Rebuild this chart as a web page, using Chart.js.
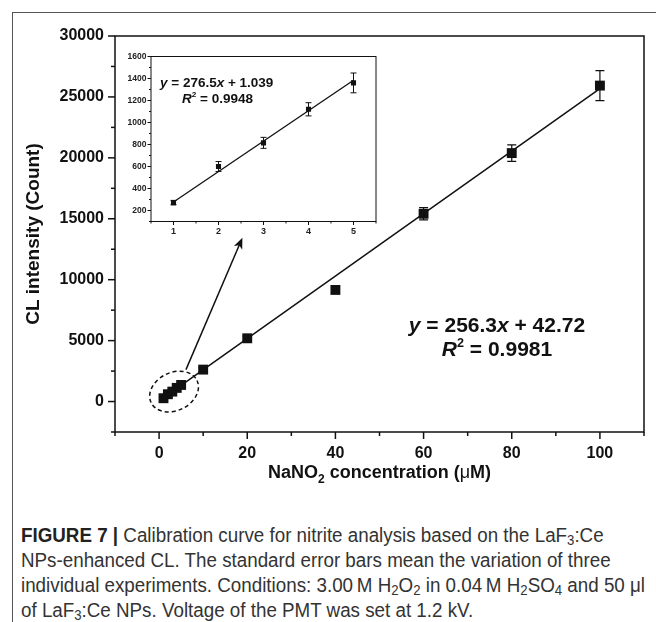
<!DOCTYPE html>
<html><head><meta charset="utf-8">
<script src="https://cdn.jsdelivr.net/npm/chart.js@4.4.1/dist/chart.umd.min.js"></script>
<style>
html,body{margin:0;padding:0;background:#fff;}
#wrap{position:relative;width:656px;height:622px;overflow:hidden;background:#fff;}
#frame{position:absolute;left:12px;top:12px;width:700px;height:700px;border-left:1.5px solid #555;border-top:1.5px solid #555;box-sizing:border-box;}
#main,#inset{position:absolute;left:0;top:0;}
#inset{pointer-events:none;}
#cap{position:absolute;left:21px;top:523px;font-family:"Liberation Sans",Arial,sans-serif;font-size:20px;line-height:25px;color:#333;white-space:nowrap;transform-origin:0 0;}
#cap .ln{display:block;}
#cap sub{font-size:0.7em;vertical-align:-0.2em;line-height:0}
#cap b{color:#222}
</style></head>
<body>
<div id="wrap">
<div id="frame"></div>
<canvas id="main" width="656" height="500"></canvas>
<canvas id="inset" width="656" height="500"></canvas>
<div id="cap"><span class="ln"><b>FIGURE 7 |</b> Calibration curve for nitrite analysis based on the LaF<sub>3</sub>:Ce</span><span class="ln">NPs-enhanced CL. The standard error bars mean the variation of three</span><span class="ln" id="l3">individual experiments. Conditions: 3.00&#8201;M H<sub>2</sub>O<sub>2</sub> in 0.04&#8201;M H<sub>2</sub>SO<sub>4</sub> and 50 μl</span><span class="ln">of LaF<sub>3</sub>:Ce NPs. Voltage of the PMT was set at 1.2 kV.</span></div>
</div>
<script>
// ---------- data ----------
const concX  = [1, 2, 3, 4, 5, 10, 20, 40, 60, 80, 100];
const clY    = [272, 600, 815, 1120, 1360, 2620, 5190, 9160, 15410, 20390, 25930];
const clErr  = [20, 45, 50, 60, 90, 150, 150, 250, 500, 680, 1230];
const fitX   = [1, 100];
const fitY   = [299, 25673];
const xMajorTicks = [0, 20, 40, 60, 80, 100];
const yMajorTicks = [0, 5000, 10000, 15000, 20000, 25000, 30000];

const insetX   = [1, 2, 3, 4, 5];
const insetY   = [272, 600, 815, 1120, 1360];
const insetErr = [20, 45, 50, 60, 90];
const insetFitX = [1, 5];
const insetFitY = [278, 1384];
const insetXMajorTicks = [1, 2, 3, 4, 5];
const insetYMajorTicks = [200, 400, 600, 800, 1000, 1200, 1400, 1600];

const mainEq = 'y = 256.3x + 42.72';
const mainR2 = '0.9981';
const insetEq = 'y = 276.5x + 1.039';
const insetR2 = '0.9948';

// annotation anchors in data units
const arrowFrom = {x: 6.1, y: 2620};
const arrowTo   = {x: 18.9, y: 13440};
const ellipseCenter = {x: 3.4, y: 820};

// caption: condense to the reference line length
(function(){
  const cap = document.getElementById('cap');
  const w = document.getElementById('l3').getBoundingClientRect().width;
  const k = 624 / w;
  cap.style.transform = 'scaleX(' + k + ')';
})();

const FONT = '"Liberation Sans", Arial, Helvetica, sans-serif';
const INK = '#111';

function pts(xs, ys){ return xs.map((x,i)=>({x:x, y:ys[i]})); }

function eqSegments(eq){
  const m = eq.match(/^y = ([\d.]+)x \+ ([\d.]+)$/);
  return [{t:'y',i:true},{t:' = '+m[1]},{t:'x',i:true},{t:' + '+m[2]}];
}
function drawRich(ctx, segs, cx, baseY, size, align){
  const font = (it, sz)=> (it?'italic ':'') + 'bold ' + sz + 'px ' + FONT;
  let w = 0;
  segs.forEach(s=>{ ctx.font = font(s.i, s.sup? size*0.6 : size); s.w = ctx.measureText(s.t).width; w += s.w; });
  let x = align==='left' ? cx : cx - w/2;
  ctx.textBaseline = 'alphabetic'; ctx.textAlign='left'; ctx.fillStyle = INK;
  segs.forEach(s=>{
    ctx.font = font(s.i, s.sup? size*0.6 : size);
    ctx.fillText(s.t, x, s.sup ? baseY - size*0.42 : baseY);
    x += s.w;
  });
}

function drawAxisTicks(ctx, chart, xStep, yStep, xMaj, yMaj, majLen, minLen, lw){
  const xs = chart.scales.x, ys = chart.scales.y, a = chart.chartArea;
  ctx.save(); ctx.strokeStyle = INK; ctx.lineWidth = lw;
  for (let v = xs.min; v <= xs.max + 1e-9; v += xStep){
    const vv = Math.round(v*1000)/1000;
    const px = xs.getPixelForValue(vv);
    const L = xMaj.includes(vv) ? majLen : minLen;
    ctx.beginPath(); ctx.moveTo(px, a.bottom); ctx.lineTo(px, a.bottom + L); ctx.stroke();
  }
  for (let v = ys.min; v <= ys.max + 1e-9; v += yStep){
    const vv = Math.round(v*1000)/1000;
    const py = ys.getPixelForValue(vv);
    const L = yMaj.includes(vv) ? majLen : minLen;
    ctx.beginPath(); ctx.moveTo(a.left, py); ctx.lineTo(a.left - L, py); ctx.stroke();
  }
  ctx.restore();
}
function drawErrors(ctx, chart, xsArr, ysArr, errs, cap, lw){
  const xs = chart.scales.x, ys = chart.scales.y;
  ctx.save(); ctx.strokeStyle = INK; ctx.lineWidth = lw;
  xsArr.forEach((xv,i)=>{
    const px = xs.getPixelForValue(xv);
    const t = ys.getPixelForValue(ysArr[i] + errs[i]);
    const b = ys.getPixelForValue(ysArr[i] - errs[i]);
    ctx.beginPath();
    ctx.moveTo(px, t); ctx.lineTo(px, b);
    ctx.moveTo(px-cap, t); ctx.lineTo(px+cap, t);
    ctx.moveTo(px-cap, b); ctx.lineTo(px+cap, b);
    ctx.stroke();
  });
  ctx.restore();
}

const mainDecor = {
  id: 'mainDecor',
  afterDatasetsDraw(chart){
    const ctx = chart.ctx, a = chart.chartArea, xs = chart.scales.x, ys = chart.scales.y;
    drawErrors(ctx, chart, concX, clY, clErr, 4.5, 1.2);
    ctx.save();
    ctx.strokeStyle = INK; ctx.lineWidth = 1.5;
    ctx.strokeRect(a.left, a.top, a.right - a.left, a.bottom - a.top);
    ctx.restore();
    drawAxisTicks(ctx, chart, 10, 2500, xMajorTicks, yMajorTicks, 7, 4, 1.5);
    // dashed ellipse
    ctx.save();
    ctx.strokeStyle = INK; ctx.lineWidth = 1.5; ctx.setLineDash([4,3]);
    ctx.beginPath();
    ctx.ellipse(xs.getPixelForValue(ellipseCenter.x), ys.getPixelForValue(ellipseCenter.y), 25.5, 19, -0.45, 0, Math.PI*2);
    ctx.stroke();
    ctx.restore();
    // arrow
    const x0 = xs.getPixelForValue(arrowFrom.x), y0 = ys.getPixelForValue(arrowFrom.y);
    const x1 = xs.getPixelForValue(arrowTo.x), y1 = ys.getPixelForValue(arrowTo.y);
    const ang = Math.atan2(y1-y0, x1-x0);
    ctx.save();
    ctx.strokeStyle = INK; ctx.fillStyle = INK; ctx.lineWidth = 1.5;
    ctx.beginPath(); ctx.moveTo(x0,y0); ctx.lineTo(x1 - 6*Math.cos(ang), y1 - 6*Math.sin(ang)); ctx.stroke();
    ctx.translate(x1,y1); ctx.rotate(ang);
    ctx.beginPath(); ctx.moveTo(0,0); ctx.lineTo(-11,-4.5); ctx.lineTo(-8,0); ctx.lineTo(-11,4.5); ctx.closePath(); ctx.fill();
    ctx.restore();
    // equation
    drawRich(ctx, eqSegments(mainEq), 497, 332, 21, 'center');
    drawRich(ctx, [{t:'R',i:true},{t:'2',sup:true},{t:' = '+mainR2}], 497, 356, 21, 'center');
    // x title with subscript
    const cx = (a.left + a.right)/2, by = 478;
    const segs = [{t:'NaNO'},{t:'2',sub:true},{t:' concentration ('},{t:'μ',mu:true},{t:'M)'}];
    let w = 0;
    segs.forEach(s=>{ ctx.font = (s.mu?'':'bold ') + (s.sub?12:18) + 'px ' + FONT; s.w = ctx.measureText(s.t).width; w += s.w; });
    let x = cx - w/2;
    ctx.fillStyle = INK; ctx.textAlign = 'left'; ctx.textBaseline = 'alphabetic';
    segs.forEach(s=>{ ctx.font = (s.mu?'':'bold ') + (s.sub?12:18) + 'px ' + FONT; ctx.fillText(s.t, x, s.sub ? by + 5 : by); x += s.w; });
  }
};

new Chart(document.getElementById('main'), {
  type: 'scatter',
  data: { datasets: [
    { data: pts(concX, clY), pointStyle: 'rect', pointRadius: 7, pointHoverRadius: 7,
      backgroundColor: INK, borderColor: INK, borderWidth: 0, showLine: false },
    { data: pts(fitX, fitY), showLine: true, pointRadius: 0, borderColor: INK, borderWidth: 1.5, fill: false }
  ]},
  options: {
    responsive: false, animation: false, events: [],
    layout: { padding: { left: 0, top: 36, right: 3, bottom: 0 } },
    plugins: { legend: { display: false }, tooltip: { enabled: false } },
    scales: {
      x: { type: 'linear', min: -10, max: 110,
        border: { display: false }, grid: { display: false, drawTicks: false },
        ticks: { stepSize: 10, autoSkip: false, maxRotation: 0, padding: 12, color: INK,
          font: { family: FONT, size: 16, weight: 'bold' },
          callback: v => xMajorTicks.includes(v) ? String(v) : '' },
        afterFit: s => { s.height = 68; } },
      y: { type: 'linear', min: -2500, max: 30000,
        border: { display: false }, grid: { display: false, drawTicks: false },
        ticks: { stepSize: 2500, autoSkip: false, padding: 11, color: INK,
          font: { family: FONT, size: 16, weight: 'bold' },
          callback: v => yMajorTicks.includes(v) ? String(v) : '' },
        title: { display: true, text: 'CL intensity (Count)', color: INK,
          font: { family: FONT, size: 19, weight: 'bold' }, padding: { top: 22, bottom: 0 } },
        afterFit: s => { s.width = 115; } }
    }
  },
  plugins: [mainDecor]
});

const insetDecor = {
  id: 'insetDecor',
  afterDatasetsDraw(chart){
    const ctx = chart.ctx, a = chart.chartArea;
    drawErrors(ctx, chart, insetX, insetY, insetErr, 3, 1);
    ctx.save(); ctx.strokeStyle = INK; ctx.lineWidth = 1;
    ctx.strokeRect(a.left, a.top, a.right - a.left, a.bottom - a.top);
    ctx.restore();
    drawAxisTicks(ctx, chart, 0.5, 100, insetXMajorTicks, insetYMajorTicks, 3.5, 2, 1);
    drawRich(ctx, eqSegments(insetEq), 160, 87, 13.5, 'left');
    drawRich(ctx, [{t:'R',i:true},{t:'2',sup:true},{t:' = '+insetR2}], 182, 102.5, 13.5, 'left');
  }
};

new Chart(document.getElementById('inset'), {
  type: 'scatter',
  data: { datasets: [
    { data: pts(insetX, insetY), pointStyle: 'rect', pointRadius: 3.6, pointHoverRadius: 3.6,
      backgroundColor: INK, borderColor: INK, borderWidth: 0, showLine: false },
    { data: pts(insetFitX, insetFitY), showLine: true, pointRadius: 0, borderColor: INK, borderWidth: 1.3, fill: false }
  ]},
  options: {
    responsive: false, animation: false, events: [],
    layout: { padding: { left: 121, top: 56.5, right: 280, bottom: 258.5 } },
    plugins: { legend: { display: false }, tooltip: { enabled: false } },
    scales: {
      x: { type: 'linear', min: 0.5, max: 5.5,
        border: { display: false }, grid: { display: false, drawTicks: false },
        ticks: { stepSize: 0.5, autoSkip: false, maxRotation: 0, padding: 5, color: '#222',
          font: { family: FONT, size: 9, weight: 'bold' },
          callback: v => insetXMajorTicks.includes(v) ? String(v) : '' },
        afterFit: s => { s.height = 20; } },
      y: { type: 'linear', min: 100, max: 1600,
        border: { display: false }, grid: { display: false, drawTicks: false },
        ticks: { stepSize: 100, autoSkip: false, padding: 4.5, color: '#222',
          font: { family: FONT, size: 8.5, weight: 'bold' },
          callback: v => insetYMajorTicks.includes(v) ? String(v) : '' },
        afterFit: s => { s.width = 30; } }
    }
  },
  plugins: [insetDecor]
});
</script>
</body></html>
